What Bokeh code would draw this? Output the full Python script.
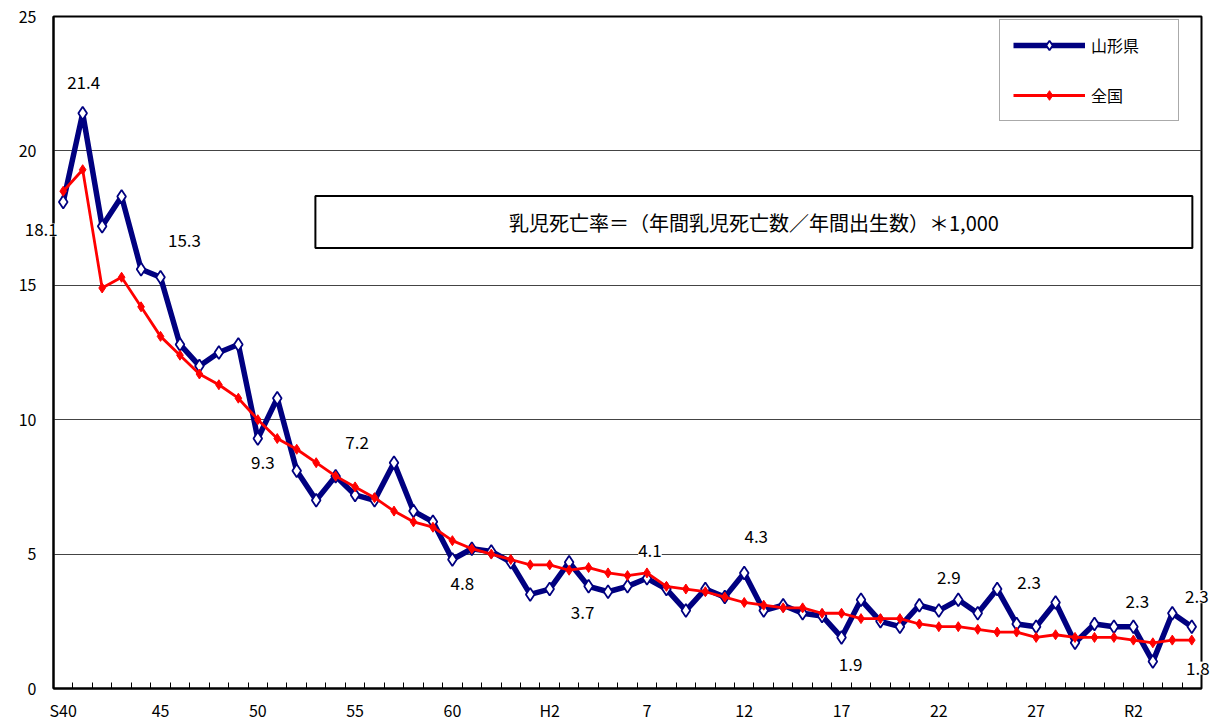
from bokeh.plotting import figure
from bokeh.models import (ColumnDataSource, Range1d, FixedTicker, Label,
                          BoxAnnotation, Legend, LegendItem)
from bokeh.embed import file_html
from bokeh.resources import INLINE

# ---- data -------------------------------------------------------------
years = list(range(1965, 2024))          # S40 ... R5
tick_labels = ["S40", "45", "50", "55", "60", "H2", "7", "12", "17", "22", "27", "R2"]

yamagata = [18.1, 21.4, 17.2, 18.3, 15.6, 15.3, 12.8, 12.0, 12.5, 12.8,
            9.3, 10.8, 8.1, 7.0, 7.9, 7.2, 7.0, 8.4, 6.6, 6.2,
            4.8, 5.2, 5.1, 4.7, 3.5, 3.7, 4.7, 3.8, 3.6, 3.8,
            4.1, 3.7, 2.9, 3.7, 3.4, 4.3, 2.9, 3.1, 2.8, 2.7,
            1.9, 3.3, 2.5, 2.3, 3.1, 2.9, 3.3, 2.8, 3.7, 2.4,
            2.3, 3.2, 1.7, 2.4, 2.3, 2.3, 1.0, 2.8, 2.3]

national = [18.5, 19.3, 14.9, 15.3, 14.2, 13.1, 12.4, 11.7, 11.3, 10.8,
            10.0, 9.3, 8.9, 8.4, 7.9, 7.5, 7.1, 6.6, 6.2, 6.0,
            5.5, 5.2, 5.0, 4.8, 4.6, 4.6, 4.4, 4.5, 4.3, 4.2,
            4.3, 3.8, 3.7, 3.6, 3.4, 3.2, 3.1, 3.0, 3.0, 2.8,
            2.8, 2.6, 2.6, 2.6, 2.4, 2.3, 2.3, 2.2, 2.1, 2.1,
            1.9, 2.0, 1.9, 1.9, 1.9, 1.8, 1.7, 1.8, 1.8]

series_names = ["山形県", "全国"]
formula_text = "乳児死亡率＝（年間乳児死亡数／年間出生数）＊1,000"

# labelled points (index into the series)
yamagata_label_idx = [0, 1, 5, 10, 15, 20, 25, 30, 35, 40, 45, 50, 55, 58]
national_label_idx = [58]

# ---- styling constants --------------------------------------------------
FONT = "Noto Sans CJK JP"
NAVY = "#000080"
RED = "#FF0000"

n = len(years)
xs = list(range(n))
src = ColumnDataSource(dict(x=xs, yamagata=yamagata, national=national))

p = figure(frame_width=1148, frame_height=672,
           x_range=Range1d(-0.5, n - 0.5), y_range=Range1d(0, 25),
           output_backend="svg", toolbar_location=None,
           min_border_left=53, min_border_right=12,
           min_border_top=16, min_border_bottom=34)
p.background_fill_color = "white"
p.border_fill_color = "white"
p.outline_line_color = "black"
p.outline_line_width = 2

# axes
major = list(range(0, n, 5))[:len(tick_labels)]
p.xaxis.ticker = FixedTicker(ticks=major, minor_ticks=[k + 0.5 for k in range(n - 1)])
p.xaxis.major_label_overrides = {t: l for t, l in zip(major, tick_labels)}
p.xaxis.major_tick_line_color = None
p.xaxis.major_tick_in = 0
p.xaxis.major_tick_out = 0
p.xaxis.minor_tick_line_color = "black"
p.xaxis.minor_tick_in = 6
p.xaxis.minor_tick_out = 0
p.xaxis.axis_line_width = 2
p.xaxis.major_label_standoff = 9
p.xaxis.major_label_text_font = FONT
p.xaxis.major_label_text_font_size = "16px"
p.xaxis.major_label_text_color = "black"

p.yaxis.ticker = FixedTicker(ticks=[0, 5, 10, 15, 20, 25])
p.yaxis.major_tick_line_color = None
p.yaxis.major_tick_in = 0
p.yaxis.major_tick_out = 0
p.yaxis.minor_tick_line_color = None
p.yaxis.minor_tick_out = 0
p.yaxis.axis_line_width = 2
p.yaxis.major_label_standoff = 17
p.yaxis.major_label_text_font = FONT
p.yaxis.major_label_text_font_size = "16px"
p.yaxis.major_label_text_color = "black"

p.xgrid.visible = False
p.ygrid.ticker = FixedTicker(ticks=[5, 10, 15, 20])
p.ygrid.grid_line_color = "#444444"
p.ygrid.grid_line_width = 1

# series
r1l = p.line("x", "yamagata", source=src, line_color=NAVY, line_width=5.5)
r1m = p.scatter("x", "yamagata", source=src, marker="diamond", size=13,
                fill_color="white", line_color=NAVY, line_width=1.8)
r2l = p.line("x", "national", source=src, line_color=RED, line_width=2.8)
r2m = p.scatter("x", "national", source=src, marker="diamond", size=10,
                fill_color=RED, line_color=RED)

# data labels (offsets in screen pixels from their point)
y_dx = [-22, 1, 24, 5, 2, 10, 33, 3, 12, 9, 10, -7, 4, 5]
y_dy = [-28, 31, 37, -24, 52, -24, -23, 28, 36, -27, 33, 44, 25, 30]


def add_value_label(series, i, dx, dy):
    lab = Label(x=xs[i], y=series[i], x_offset=dx, y_offset=dy,
                text="%.1f" % series[i],
                text_align="center", text_baseline="middle",
                text_font=FONT, text_font_size="17px", text_color="black",
                background_fill_color="white", background_fill_alpha=1,
                level="overlay")
    if i == 0 or i == n - 1:
        # labels straddling the frame edge: a side panel keeps them unclipped
        p.add_layout(lab, "below")
    else:
        p.add_layout(lab)


for i, dx, dy in zip(yamagata_label_idx, y_dx, y_dy):
    add_value_label(yamagata, i, dx, dy)
for i, dx, dy in zip(national_label_idx, [6], [-28]):
    add_value_label(national, i, dx, dy)

# formula box
p.add_layout(BoxAnnotation(left=12.96, right=58.03, bottom=16.39, top=18.32,
                           fill_color="white", fill_alpha=1,
                           line_color="black", line_alpha=1, line_width=2,
                           level="annotation"))
p.add_layout(Label(x=35.5, y=17.35, text=formula_text,
                   text_align="center", text_baseline="middle",
                   text_font=FONT, text_font_size="20px", text_color="black",
                   level="overlay"))

# legend
legend = Legend(items=[LegendItem(label=series_names[0], renderers=[r1l, r1m]),
                       LegendItem(label=series_names[1], renderers=[r2l, r2m])],
                location=(946, 567), margin=0, padding=13, spacing=26,
                glyph_height=24, glyph_width=72, label_height=24, label_width=74,
                label_standoff=6, border_line_color="#555555", border_line_width=1.5,
                background_fill_color="white", background_fill_alpha=1,
                label_text_font=FONT, label_text_font_size="16px",
                label_text_color="black")
p.add_layout(legend)

open("out.html", "w").write(file_html(p, INLINE))
